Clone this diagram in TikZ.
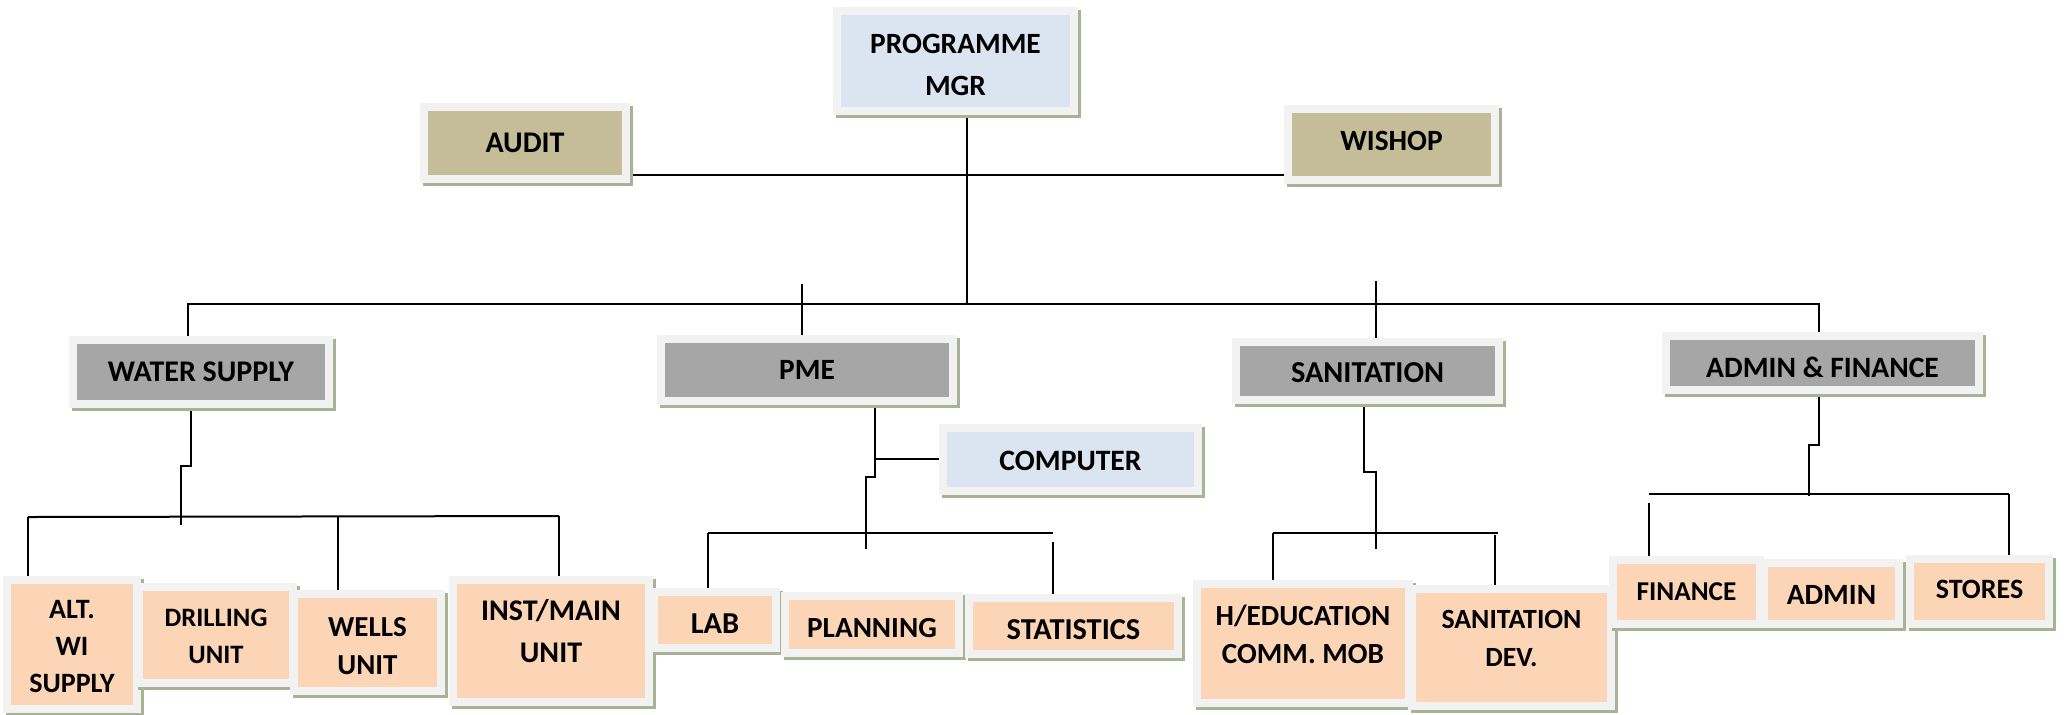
\documentclass[tikz,border=0pt]{standalone}
\usepackage{fontspec}
\setmainfont{Carlito}
\definecolor{rim}{HTML}{F2F2F2}
\definecolor{shade}{RGB}{168,178,148}
\definecolor{bluebox}{HTML}{DBE5F1}
\definecolor{tanbox}{HTML}{C4BD97}
\definecolor{graybox}{HTML}{A6A6A6}
\definecolor{peachbox}{HTML}{FBD5B5}
\pgfdeclarelayer{bg}
\pgfsetlayers{bg,main}
\tikzset{
  box/.style n args={3}{draw=rim, line width=4pt, fill=#1, inner sep=0pt,
     minimum width={(#2-8)*0.5pt}, minimum height={(#3-8)*0.5pt},
     preaction={draw=shade, fill=shade, line width=4pt,
       transform canvas={shift={(1.5pt,-1.5pt)}}}},
  lbl/.style 2 args={font=\fontsize{#1}{#2}\selectfont\bfseries, align=center,
     inner sep=0pt, text=black},
  conn/.style={line width=1pt, draw=black},
}
\begin{document}
\begin{tikzpicture}[x=0.5pt, y=-0.5pt]
\useasboundingbox (0,0) rectangle (2065,714);
\begin{pgfonlayer}{bg}
\fill[white] (0,0) rectangle (2065,714);
\end{pgfonlayer}

% top level
\node[box={bluebox}{245}{108}, label={[lbl={14.7}{21},yshift=-2pt]center:{PROGRAMME\\MGR}}] (pm) at (955.5,61) {};
\node[box={tanbox}{210}{80}, label={[lbl={15}{17},yshift=0pt]center:{AUDIT}}] (audit) at (525,143) {};
\node[box={tanbox}{215}{79}, label={[lbl={14.7}{17},yshift=2pt]center:{WISHOP}}] (wishop) at (1391.5,144.5) {};

% second level
\node[box={graybox}{264}{72}, label={[lbl={15}{17}]center:{WATER SUPPLY}}] (ws) at (201,372) {};
\node[box={graybox}{300}{70}, label={[lbl={14.7}{17}]center:{PME}}] (pme) at (807,370) {};
\node[box={graybox}{271}{66}, label={[lbl={15.2}{17},yshift=-1pt]center:{SANITATION}}] (san) at (1367.5,371) {};
\node[box={graybox}{321}{62}, label={[lbl={14.8}{17},yshift=-2pt]center:{ADMIN \& FINANCE}}] (af) at (1822.5,363) {};
\node[box={bluebox}{263}{71}, label={[lbl={14.8}{17},yshift=-0.5pt]center:{COMPUTER}}] (comp) at (1070.5,459.5) {};

% third level
\node[box={peachbox}{138}{137}, label={[lbl={14}{18.5},yshift=-1pt]center:{ALT.\\WI\\SUPPLY}}] (alt) at (72,644.5) {};
\node[box={peachbox}{162}{104}, label={[lbl={13.3}{18.5},yshift=-0.5pt]center:{DRILLING\\UNIT}}] (drill) at (216,635) {};
\node[box={peachbox}{155}{105}, label={[lbl={14.5}{19},yshift=-2pt]center:{WELLS\\UNIT}}] (wells) at (367.5,642.5) {};
\node[box={peachbox}{204}{130}, label={[lbl={15}{21},yshift=5pt]center:{INST/MAIN\\UNIT}}] (inst) at (551,641) {};
\node[box={peachbox}{130}{64}, label={[lbl={15.2}{17},yshift=-2pt]center:{LAB}}] (lab) at (715,620) {};
\node[box={peachbox}{182}{65}, label={[lbl={14.6}{17},yshift=-2pt]center:{PLANNING}}] (plan) at (872,624.5) {};
\node[box={peachbox}{217}{64}, label={[lbl={15.2}{17},yshift=-2pt]center:{STATISTICS}}] (stat) at (1073.5,626) {};
\node[box={peachbox}{220}{127}, label={[lbl={14.6}{19},yshift=4.5pt]center:{H/EDUCATION\\COMM. MOB}}] (hed) at (1303,643.5) {};
\node[box={peachbox}{207}{125}, label={[lbl={13.9}{19},yshift=4.5pt]center:{SANITATION\\DEV.}}] (sdev) at (1511.5,647.5) {};
\node[box={peachbox}{155}{72}, label={[lbl={13.6}{16}]center:{FINANCE}}] (fin) at (1686.5,592) {};
\node[box={peachbox}{143}{69}, label={[lbl={14.7}{17},yshift=-0.5pt]center:{ADMIN}}] (adm) at (1831.5,593.5) {};
\node[box={peachbox}{147}{73}, label={[lbl={14}{16},yshift=1pt]center:{STORES}}] (stores) at (1979.5,591.5) {};

% junction coordinates
\coordinate (j0) at (967,304);
\coordinate (bL) at (188,304);
\coordinate (bR) at (1819,304);
\coordinate (aw) at (967,175);
\coordinate (tk1) at (802,284);
\coordinate (tk2) at (1376,281);
\coordinate (w1) at (191,466);
\coordinate (w2) at (181,466);
\coordinate (w3) at (181,525);
\coordinate (wbL) at (28,517);
\coordinate (wbR) at (559,516);
\coordinate (wk) at (338,517);
\coordinate (p1) at (875,459);
\coordinate (p2) at (875,477);
\coordinate (p3) at (866,477);
\coordinate (p4) at (866,549);
\coordinate (pbL) at (708,533);
\coordinate (pbR) at (1053,533);
\coordinate (pk) at (1053,542);
\coordinate (s1) at (1364,472);
\coordinate (s2) at (1376,472);
\coordinate (s3) at (1376,549);
\coordinate (sbL) at (1273,533);
\coordinate (sbR) at (1498,533);
\coordinate (sk) at (1495,535);
\coordinate (a1) at (1819,445);
\coordinate (a2) at (1809,445);
\coordinate (a3) at (1809,496);
\coordinate (abL) at (1649,494);
\coordinate (abR) at (2009,494);
\coordinate (ak) at (1649,503);

\begin{pgfonlayer}{bg}
\draw[conn] (pm.south -| j0) -- (j0);
\draw[conn] (audit.east |- aw) -- (wishop.west |- aw);
\draw[conn] (ws.north -| bL) -- (bL) -- (bR) -- (af.north -| bR);
\draw[conn] (tk1) -- (pme.north -| tk1);
\draw[conn] (tk2) -- (san.north -| tk2);
\draw[conn] (ws.south -| w1) -- (w1) -- (w2) -- (w3);
\draw[conn] (wbL) -- (wbR);
\draw[conn] (wbL) -- (alt.north -| wbL);
\draw[conn] (wk) -- (wells.north -| wk);
\draw[conn] (wbR) -- (inst.north -| wbR);
\draw[conn] (pme.south -| p1) -- (p2) -- (p3) -- (p4);
\draw[conn] (p1) -- (comp.west |- p1);
\draw[conn] (pbL) -- (pbR);
\draw[conn] (pbL) -- (lab.north -| pbL);
\draw[conn] (pk) -- (stat.north -| pk);
\draw[conn] (san.south -| s1) -- (s1) -- (s2) -- (s3);
\draw[conn] (sbL) -- (sbR);
\draw[conn] (sbL) -- (hed.north -| sbL);
\draw[conn] (sk) -- (sdev.north -| sk);
\draw[conn] (af.south -| a1) -- (a1) -- (a2) -- (a3);
\draw[conn] (abL) -- (abR);
\draw[conn] (ak) -- (fin.north -| ak);
\draw[conn] (abR) -- (stores.north -| abR);
\end{pgfonlayer}
\end{tikzpicture}
\end{document}
